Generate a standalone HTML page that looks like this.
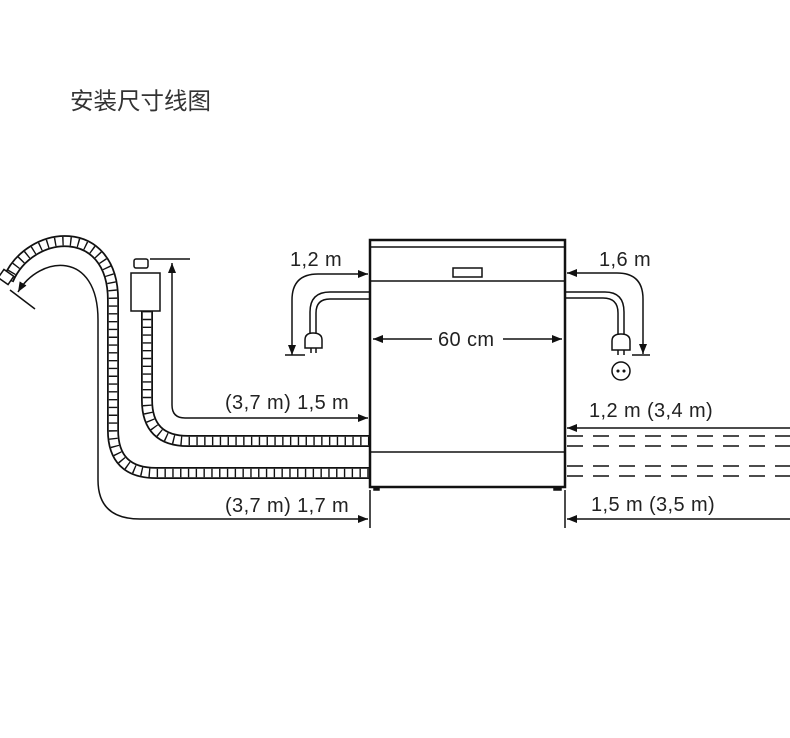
<!DOCTYPE html>
<html><head><meta charset="utf-8"><style>
body{margin:0;background:#fff;}
svg{display:block}
text{font-family:"Liberation Sans",Arial,sans-serif;font-size:20px;letter-spacing:0.4px;fill:#222}
</style></head><body>
<svg width="790" height="738" viewBox="0 0 790 738" xmlns="http://www.w3.org/2000/svg">
<defs>
<marker id="a" viewBox="0 0 10 10" refX="10" refY="5" markerWidth="10" markerHeight="10" markerUnits="userSpaceOnUse" orient="auto-start-reverse"><path d="M0,1 L10,5 L0,9 Z" fill="#111"/></marker>
</defs>
<text x="70" y="109" style="font-family:'Liberation Sans','Noto Sans CJK SC',sans-serif;font-size:23.5px;letter-spacing:0;fill:#333">安装尺寸线图</text>

<g fill="none" stroke="#111" stroke-width="1.5">
<path d="M8 280 C30 228,113 222,113 300 L113 430 Q113 473 156 473 L370 473" stroke-width="12"/>
<path d="M8 280 C30 228,113 222,113 300 L113 430 Q113 473 156 473 L370 473" stroke="#fff" stroke-width="8.5"/>
<path d="M8 280 C30 228,113 222,113 300 L113 430 Q113 473 156 473 L370 473" stroke-width="8.5" stroke-dasharray="1.4 6.4"/>
<path d="M147 311 L147 400 Q147 441 188 441 L370 441" stroke-width="12"/>
<path d="M147 311 L147 400 Q147 441 188 441 L370 441" stroke="#fff" stroke-width="8.5"/>
<path d="M147 311 L147 400 Q147 441 188 441 L370 441" stroke-width="8.5" stroke-dasharray="1.4 6.4"/>
<rect x="0" y="272" width="12" height="10" transform="rotate(35 6 277)" fill="#fff"/>
<line x1="10" y1="290" x2="35" y2="309"/>
<rect x="131" y="273" width="29" height="38" fill="#fff"/>
<rect x="134" y="259" width="14" height="9" rx="2" fill="#fff"/>
<line x1="150" y1="259" x2="190" y2="259"/>
<path d="M172 405 L172 263" marker-end="url(#a)"/>
<path d="M172 405 Q172 418 185 418 L368 418" marker-end="url(#a)"/>
<path d="M98 320 C98 250,40 255,18 292" marker-end="url(#a)"/>
<path d="M98 320 L98 480 Q98 519 140 519 L368 519" marker-end="url(#a)"/>
<line x1="370" y1="490" x2="370" y2="528"/>
<line x1="565" y1="490" x2="565" y2="528"/>
<rect x="370" y="240" width="195" height="247" stroke-width="2.5" fill="#fff"/>
<line x1="371" y1="247" x2="564" y2="247"/>
<line x1="371" y1="281" x2="564" y2="281"/>
<line x1="371" y1="452" x2="564" y2="452"/>
<rect x="453" y="268" width="29" height="9"/>
<rect x="374" y="487" width="5" height="3" fill="#111"/>
<rect x="554" y="487" width="7" height="3" fill="#111"/>
<line x1="432" y1="339" x2="373" y2="339" marker-end="url(#a)"/>
<line x1="503" y1="339" x2="562" y2="339" marker-end="url(#a)"/>
<path d="M292 355 L292 300 Q292 274 318 274 L368 274" marker-start="url(#a)" marker-end="url(#a)"/>
<line x1="285" y1="355" x2="305" y2="355"/>
<path d="M370 292 L330 292 Q310 292 310 312 L310 335"/>
<path d="M370 299 L330 299 Q316 299 316 313 L316 335"/>
<path d="M305 348 L305 340 Q305 333 313 333 Q322 333 322 340 L322 348 Z" fill="#fff"/>
<line x1="311" y1="348" x2="311" y2="353"/><line x1="316" y1="348" x2="316" y2="353"/>
<path d="M567 273 L617 273 Q643 273 643 299 L643 354" marker-start="url(#a)" marker-end="url(#a)"/>
<line x1="632" y1="355" x2="650" y2="355"/>
<path d="M565 292 L605 292 Q624 292 624 312 L624 335"/>
<path d="M565 298 L603 298 Q618 298 618 313 L618 335"/>
<path d="M612 350 L612 341 Q612 334 621 334 Q630 334 630 341 L630 350 Z" fill="#fff"/>
<line x1="618" y1="350" x2="618" y2="355"/><line x1="624" y1="350" x2="624" y2="355"/>
<circle cx="621" cy="371" r="9"/>
<circle cx="618" cy="371" r="0.8" fill="#111"/><circle cx="624" cy="371" r="0.8" fill="#111"/>
<line x1="790" y1="428" x2="567" y2="428" marker-end="url(#a)"/>
<line x1="790" y1="519" x2="567" y2="519" marker-end="url(#a)"/>
<g stroke-dasharray="16 10">
<line x1="567" y1="436" x2="790" y2="436"/>
<line x1="567" y1="446" x2="790" y2="446"/>
<line x1="567" y1="466" x2="790" y2="466"/>
<line x1="567" y1="476" x2="790" y2="476"/>
</g>
</g>
<text x="290" y="266">1,2 m</text>
<text x="599" y="266">1,6 m</text>
<text x="438" y="346">60 cm</text>
<text x="225" y="409">(3,7 m) 1,5 m</text>
<text x="225" y="512">(3,7 m) 1,7 m</text>
<text x="589" y="417">1,2 m (3,4 m)</text>
<text x="591" y="511">1,5 m (3,5 m)</text>
</svg>
</body></html>
